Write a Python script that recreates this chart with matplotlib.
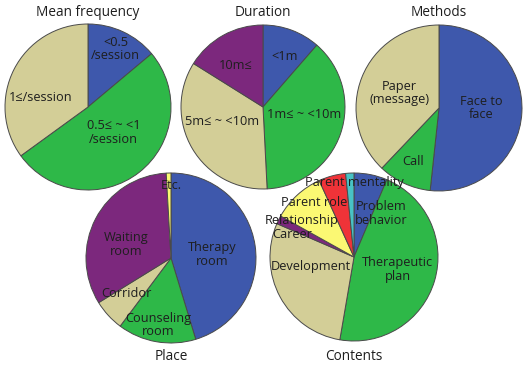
import matplotlib
matplotlib.use("Agg")
import matplotlib.pyplot as plt

plt.rcParams['font.family'] = ['Open Sans', 'DejaVu Sans']

# SPSS-like default palette
palette = ['#3E58AC', '#2EB848', '#D3CE97', '#7C287D', '#FBF873', '#EF3338', '#48C2C5']

# --- data (percent, clockwise from 12 o'clock) ---
freq_labels = ['<0.5\n/session', '0.5\u2264 ~ <1\n/session', '1\u2264/session']
freq_values = [13.9, 51.1, 35.0]

dur_labels = ['<1m', '1m\u2264 ~ <10m', '5m\u2264 ~ <10m', '10m\u2264']
dur_values = [11.4, 37.8, 34.7, 16.1]

meth_labels = ['Face to\nface', 'Call', 'Paper\n(message)']
meth_values = [51.7, 10.4, 37.9]

place_labels = ['Therapy\nroom', 'Counseling\nroom', 'Corridor', 'Waiting\nroom', 'Etc.']
place_values = [45.3, 14.9, 6.0, 32.9, 0.9]

cont_labels = ['Problem\nbehavior', 'Therapeutic\nplan', 'Development', 'Career',
               'Relationship', 'Parent role', 'Parent mentality']
cont_values = [6.4, 46.3, 28.8, 1.6, 10.1, 5.2, 1.6]

# label placement, in units of pie radius (hand-tuned like the original)
freq_pos = [(0.33, 0.70), (0.31, -0.31), (-0.57, 0.12)]
dur_pos = [(0.26, 0.62), (0.50, -0.09), (-0.50, -0.18), (-0.33, 0.51)]
meth_pos = [(0.51, 0.0), (-0.31, -0.65), (-0.48, 0.18)]
place_pos = [(0.49, 0.04), (-0.15, -0.79), (-0.53, -0.42), (-0.53, 0.16), (0.0, 0.85)]
cont_pos = [(0.32, 0.52), (0.52, -0.15), (-0.52, -0.11), (-0.73, 0.27),
            (-0.62, 0.44), (-0.48, 0.65), (0.01, 0.89)]

W, H = 529, 370
fig = plt.figure(figsize=(W / 100, H / 100), dpi=100)
fig.patch.set_facecolor('white')


def draw_pie(cx, cy, r, values, labels, pos, title, title_y):
    ax = fig.add_axes([(cx - r) / W, 1 - (cy + r) / H, 2 * r / W, 2 * r / H])
    ax.pie(values, colors=palette[:len(values)], startangle=90, counterclock=False,
           wedgeprops=dict(edgecolor='#4a4a4a', linewidth=0.7))
    ax.set_xlim(-1, 1)
    ax.set_ylim(-1, 1)
    ax.set_aspect('equal')
    ax.axis('off')
    for lab, (x, y) in zip(labels, pos):
        ax.text(x, y, lab, ha='center', va='center', fontsize=9.2, color='#1e1e1e',
                linespacing=1.05, zorder=10, clip_on=False)
    fig.text(cx / W, 1 - title_y / H, title, ha='center', va='center',
             fontsize=9.8, color='#1e1e1e')
    return ax


draw_pie(88, 107, 83, freq_values, freq_labels, freq_pos, 'Mean frequency', 13)
draw_pie(263, 107, 82, dur_values, dur_labels, dur_pos, 'Duration', 13)
draw_pie(439, 108, 83, meth_values, meth_labels, meth_pos, 'Methods', 13)
draw_pie(171, 258, 85, place_values, place_labels, place_pos, 'Place', 356)
draw_pie(354, 257, 84, cont_values, cont_labels, cont_pos, 'Contents', 356)

fig.savefig('out.png', dpi=100)
